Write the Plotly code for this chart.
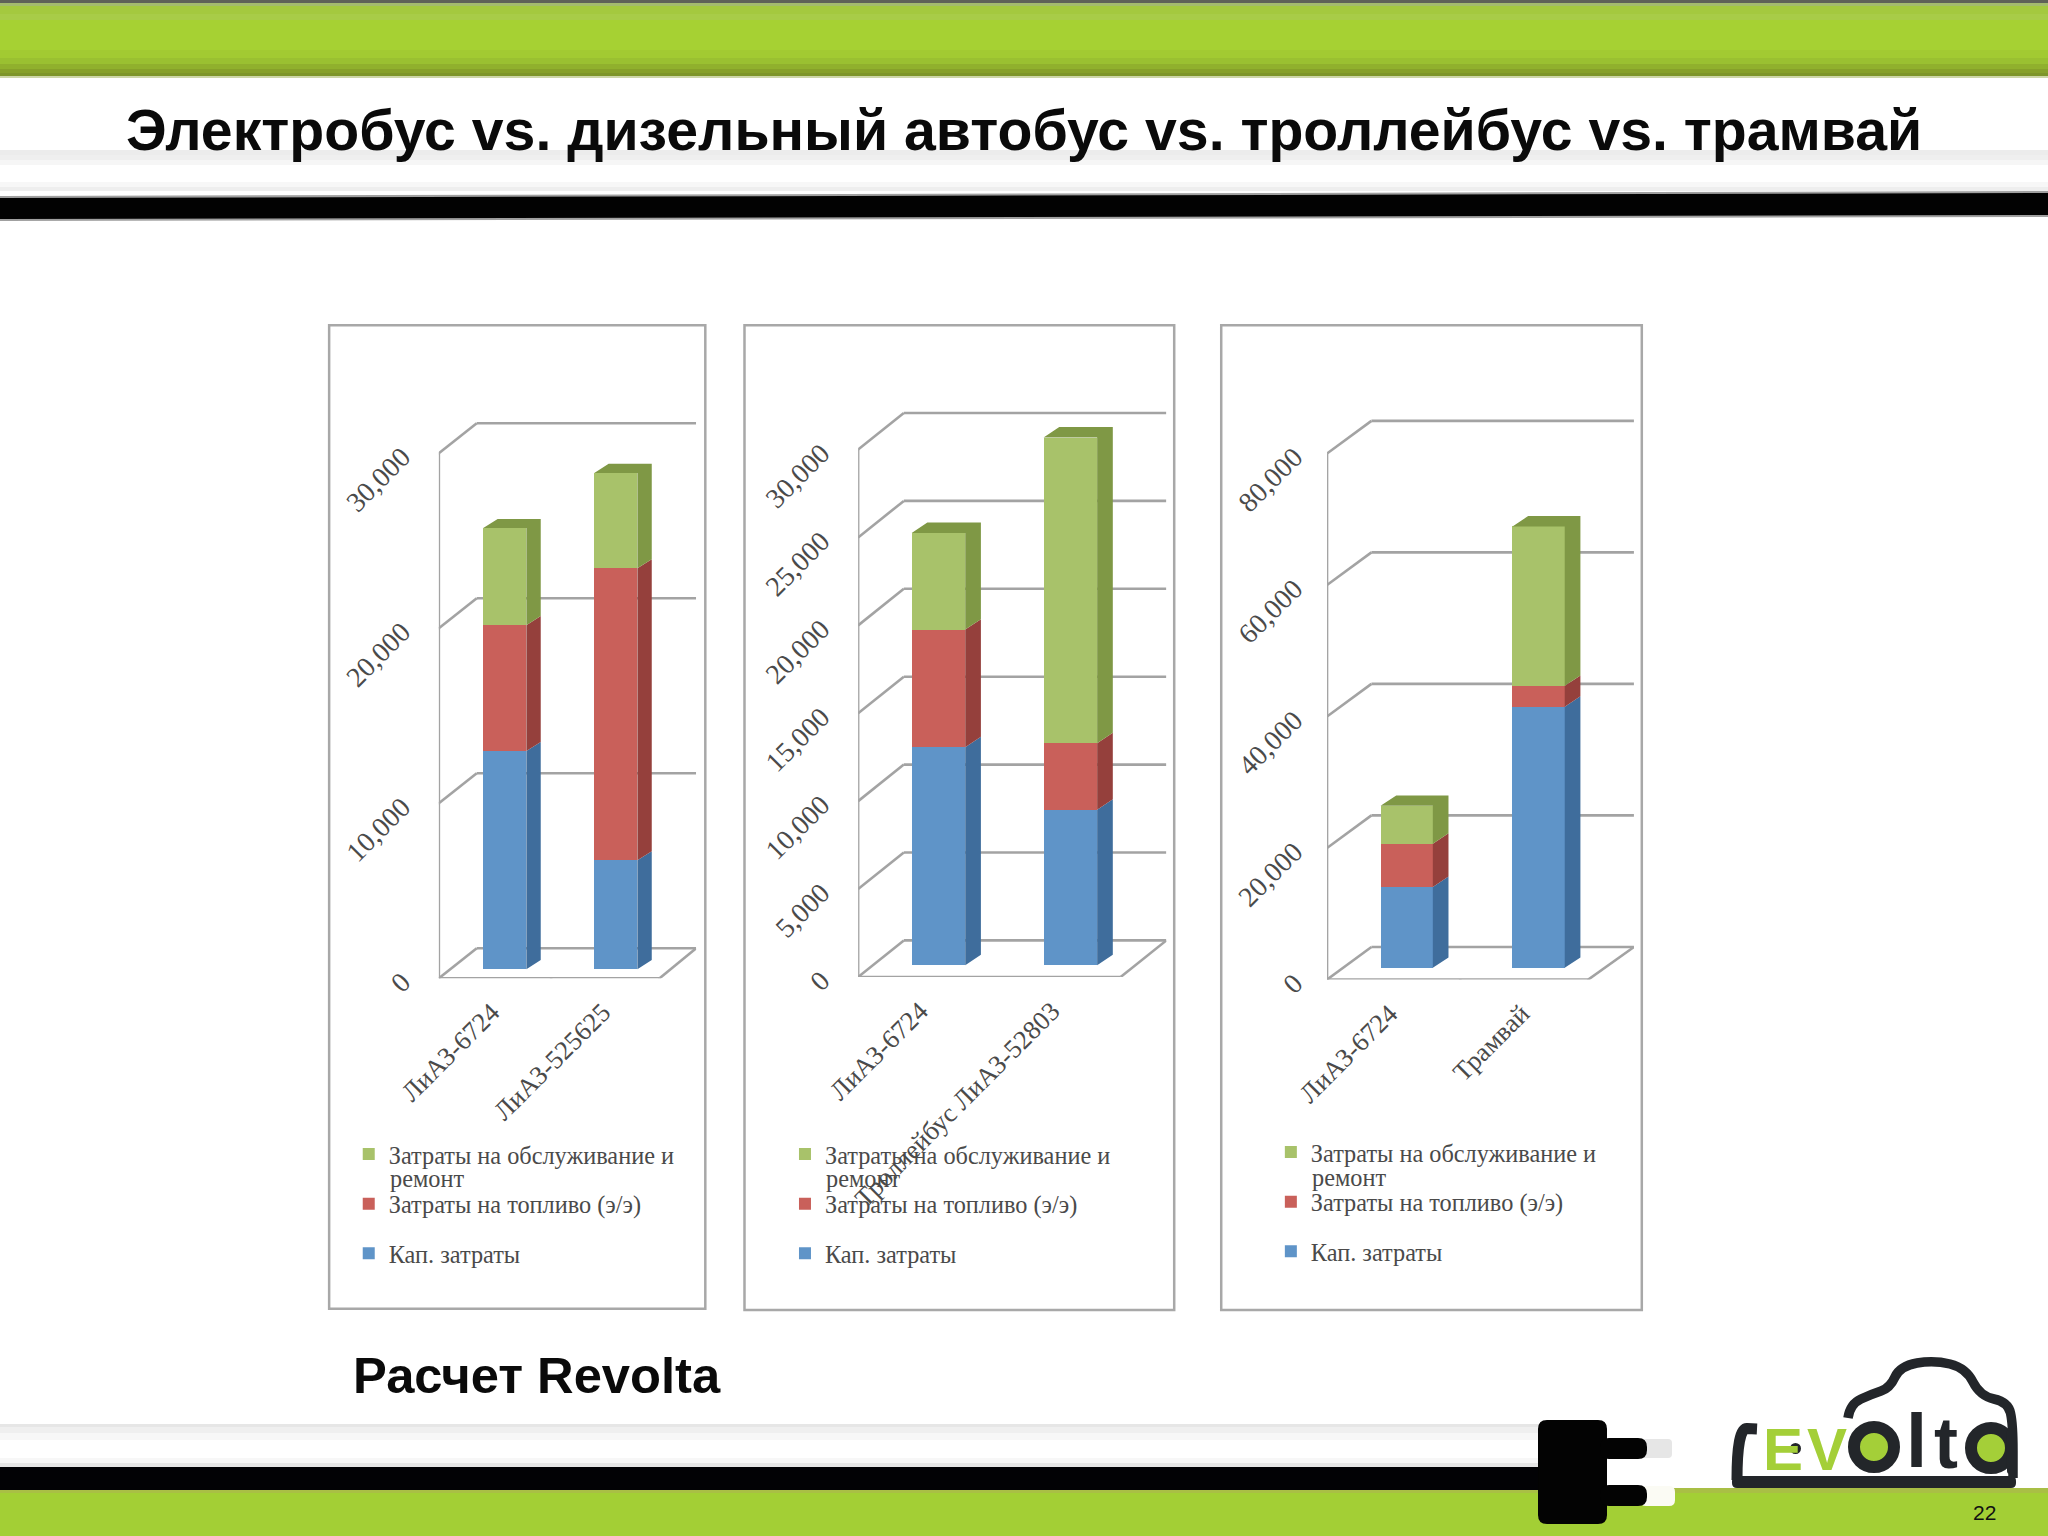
import plotly.graph_objects as go

W, H = 2048, 1536
S = 2048 / 1568

# ---------- data ----------
CATS_1 = ["ЛиАЗ-6724", "ЛиАЗ-525625"]
CAPEX_1 = [12460, 6220]
FUEL_1 = [7190, 16680]
MAINT_1 = [5550, 5450]
TICKS_1 = [0, 10000, 20000, 30000]

CATS_2 = ["ЛиАЗ-6724", "Троллейбус ЛиАЗ-52803"]
CAPEX_2 = [12400, 8840]
FUEL_2 = [6690, 3790]
MAINT_2 = [5500, 17385]
TICKS_2 = [0, 5000, 10000, 15000, 20000, 25000, 30000]

CATS_3 = ["ЛиАЗ-6724", "Трамвай"]
CAPEX_3 = [12300, 39700]
FUEL_3 = [6570, 3180]
MAINT_3 = [5760, 24230]
TICKS_3 = [0, 20000, 40000, 60000, 80000]

SERIES_NAMES = ["Кап. затраты", "Затраты на топливо (э/э)", "Затраты на обслуживание и"]
SERIES_NAME_LINE2 = "ремонт"
TITLE = "Электробус vs. дизельный автобус vs. троллейбус vs. трамвай"
NOTE = "Расчет Revolta"
PAGE = "22"

# ---------- style / layout (1568-wide reference units) ----------
FRONT = ["#5f94c8", "#c9605a", "#a8c26a"]
SIDE = ["#3f6d9c", "#95403c", "#7f9845"]
GRID = "#a3a3a3"
LABEL = "#4a4a4a"
SERIF = "Liberation Serif"
SANS = "Liberation Sans"
PANELS = [
    dict(cats=CATS_1, vals=[CAPEX_1, FUEL_1, MAINT_1], ticks=TICKS_1,
         box=(252, 249, 540, 1002), ax=336, floor=749, base=742, ppu=134.0 / 10000,
         back=(29, 23), right=533, front_end=505, ctick=[336, 422, 505],
         bars=[(370, 403), (455, 488)], depth=(11, 7), legend=(267, 866.5), line2=(298, 902.5), lab_dx=10, ylen=30),
    dict(cats=CATS_2, vals=[CAPEX_2, FUEL_2, MAINT_2], ticks=TICKS_2,
         box=(570, 249, 899, 1003), ax=657, floor=748, base=739, ppu=67.3 / 5000,
         back=(35, 28), right=893, front_end=858, ctick=[657, 757, 858],
         bars=[(698, 739), (799, 840)], depth=(12, 8), legend=(601, 866.5), line2=(632, 902.5), lab_dx=14, ylen=30),
    dict(cats=CATS_3, vals=[CAPEX_3, FUEL_3, MAINT_3], ticks=TICKS_3,
         box=(935, 249, 1257, 1003), ax=1016, floor=750, base=741, ppu=100.7 / 20000,
         back=(34, 25), right=1251, front_end=1216, ctick=[1016, 1118, 1216],
         bars=[(1057, 1097), (1158, 1198)], depth=(12, 8), legend=(973, 865), line2=(1004, 901.5), lab_dx=13, ylen=26),
]
PLOT_TOP = 295


def px(x):
    return x / W


def py(y):
    return 1 - y / H


def rect(x0, y0, x1, y1, color, layer="below"):
    return dict(type="rect", xref="paper", yref="paper", x0=px(x0), x1=px(x1), y0=py(y0), y1=py(y1),
                fillcolor=color, line=dict(width=0), layer=layer)


def poly(points, color):
    d = "M " + " L ".join(f"{px(a):.5f},{py(b):.5f}" for a, b in points) + " Z"
    return dict(type="path", xref="paper", yref="paper", path=d, fillcolor=color, line=dict(width=0), layer="below")


def rounded(x0, y0, x1, y1, r, color, layer="below"):
    k = lambda a, b: f"{px(a):.5f},{py(b):.5f}"
    d = (f"M {k(x0 + r, y0)} L {k(x1 - r, y0)} Q {k(x1, y0)} {k(x1, y0 + r)} L {k(x1, y1 - r)} "
         f"Q {k(x1, y1)} {k(x1 - r, y1)} L {k(x0 + r, y1)} Q {k(x0, y1)} {k(x0, y1 - r)} "
         f"L {k(x0, y0 + r)} Q {k(x0, y0)} {k(x0 + r, y0)} Z")
    return dict(type="path", xref="paper", yref="paper", path=d, fillcolor=color, line=dict(width=0), layer=layer)


def smooth(points, color, width, layer="below"):
    k = lambda a, b: f"{px(a):.5f},{py(b):.5f}"
    d = "M " + k(*points[0])
    for i in range(1, len(points) - 1):
        mx, my = (points[i][0] + points[i + 1][0]) / 2, (points[i][1] + points[i + 1][1]) / 2
        d += f" Q {k(*points[i])} {k(mx, my)}"
    d += " L " + k(*points[-1])
    return dict(type="path", xref="paper", yref="paper", path=d, line=dict(color=color, width=width), layer=layer)


shapes, annotations = [], []

# ---------- slide chrome ----------
for a, b, c in [(0, 3, "#5e6258"), (3, 6, "#a3bb6e"), (6, 14, "#a4c93f"), (14, 20, "#a8cc48"), (20, 50, "#a6d133"),
                (50, 58, "#a2ca32"), (58, 64, "#9ac031"), (64, 69, "#90b02d"), (69, 73, "#86a02a"),
                (73, 76, "#7d952a"), (76, 78, "#cdd6a8"),
                (150, 155, "#ececec"), (155, 160, "#efefef"), (160, 165, "#f6f6f6"),
                (182, 187, "#f7f7f7"), (187, 191, "#eeeeee")]:
    shapes.append(rect(0, a, W, b, c))
shapes.append(poly([(0, 196), (W, 191), (W, 217), (0, 221)], "#a0a0a0"))
shapes.append(poly([(0, 198), (W, 193), (W, 215), (0, 219)], "#020202"))

for a, b, c in [(1424, 1427, "#e6e6e6"), (1427, 1433, "#efefef"), (1433, 1440, "#f7f7f7"),
                (1458, 1463, "#f7f7f7"), (1463, 1467, "#e6e6e6")]:
    shapes.append(rect(0, a, 1545, b, c))
shapes.append(rect(0, 1488, W, H, "#a3cf35"))
shapes.append(rect(0, 1488, W, 1493, "#a9bf45"))
shapes.append(rect(0, 1467, 1545, 1490, "#020205"))

# plug
shapes.append(rounded(1640, 1439, 1672, 1458, 4, "#e6e6e6"))
shapes.append(rounded(1640, 1486, 1675, 1506, 6, "#fbfbf4"))
shapes.append(rounded(1538, 1420, 1607, 1524, 9, "#030303"))
shapes.append(rounded(1600, 1438, 1647, 1459, 9, "#030303"))
shapes.append(rounded(1600, 1485, 1647, 1506, 9, "#030303"))

LOGO = "#23262a"
LIME = "#a4cf38"
shapes.append(rounded(1732, 1476, 2016, 1488, 5, LOGO))
shapes.append(smooth([(1737, 1480), (1737, 1428), (1757, 1429)], LOGO, 11))
shapes.append(smooth([(1848, 1418), (1850, 1404), (1872, 1394), (1890, 1388), (1900, 1366), (1934, 1360),
                      (1966, 1368), (1980, 1396), (2008, 1402), (2013, 1424), (2013, 1478)], LOGO, 9.5))
for cx, cy in [(1874, 1447), (1991, 1448)]:
    shapes.append(dict(type="circle", xref="paper", yref="paper", layer="below",
                       x0=px(cx - 20), x1=px(cx + 20), y0=py(cy - 20), y1=py(cy + 20),
                       fillcolor=LIME, line=dict(color=LOGO, width=12)))
shapes.append(rounded(2007, 1428, 2017, 1474, 3, LOGO))
for txt, x, y, sz, col in [("E", 1783, 1449, 60, LIME), ("V", 1827, 1449, 60, LIME),
                           ("l", 1916, 1440, 76, LOGO), ("t", 1946, 1443, 72, LOGO)]:
    annotations.append(dict(text=f"<b>{txt}</b>", x=px(x), y=py(y), xref="paper", yref="paper", showarrow=False,
                            xanchor="center", yanchor="middle", font=dict(family=SANS, size=sz, color=col)))
shapes.append(dict(type="circle", xref="paper", yref="paper", layer="above", x0=px(1790), x1=px(1801),
                   y0=py(1443), y1=py(1454), fillcolor=LOGO, line=dict(width=0)))

annotations += [
    dict(text=f"<b>{TITLE}</b>", x=px(1024), y=py(130), xref="paper", yref="paper", showarrow=False,
         xanchor="center", yanchor="middle", font=dict(family=SANS, size=57.2, color="#0a0a0a")),
    dict(text=f"<b>{NOTE}</b>", x=px(351), y=py(1375), xref="paper", yref="paper", showarrow=False,
         xanchor="left", yanchor="middle", font=dict(family=SANS, size=50.7, color="#0a0a0a")),
    dict(text=PAGE, x=px(1984), y=py(1512), xref="paper", yref="paper", showarrow=False,
         xanchor="center", yanchor="middle", font=dict(family=SANS, size=21, color="#111111")),
]

fig = go.Figure()
layout_axes = {}

for i, p in enumerate(PANELS):
    n = i + 1
    xa, ya = f"x{n}", f"y{n}"
    xname, yname = f"xaxis{n}", f"yaxis{n}"
    legend_id = "legend" if n == 1 else f"legend{n}"

    # panel frame
    b = p["box"]
    shapes.append(dict(type="rect", xref="paper", yref="paper", layer="below",
                       x0=px(b[0] * S), x1=px(b[2] * S), y0=py(b[1] * S), y1=py(b[3] * S),
                       fillcolor="#ffffff", line=dict(color="#a8a8a8", width=2.5)))

    # axis calibration: reference px <-> data
    c1 = sum(p["bars"][0]) / 2
    c2 = sum(p["bars"][1]) / 2
    ux = c2 - c1
    to_x = lambda q, c1=c1, ux=ux: 1 + (q - c1) / ux
    to_y = lambda q, base=p["base"], ppu=p["ppu"]: (base - q) / ppu
    x_range = [to_x(p["ax"]), to_x(p["right"])]
    y_range = [to_y(p["floor"]), to_y(PLOT_TOP)]
    shift = (p["floor"] - p["base"]) / p["ppu"]
    bdx, bdy = p["back"][0] / ux, p["back"][1] / p["ppu"]
    ddx, ddy = p["depth"][0] / ux, p["depth"][1] / p["ppu"]
    bar_w = (p["bars"][0][1] - p["bars"][0][0]) / ux
    positions = [1, 2]

    grid = dict(color=GRID, width=2.6)


    def seg(x0, y0, x1, y1):
        shapes.append(dict(type="line", xref=xa, yref=ya, x0=x0, y0=y0, x1=x1, y1=y1, line=grid, layer="below"))


    xl, xr = x_range
    for v in p["ticks"]:
        yy = v - shift
        seg(xl, yy, xl + bdx, yy + bdy)
        seg(xl + bdx, yy + bdy, xr, yy + bdy)
        seg(xl - 5 / ux, yy, xl, yy)
    seg(xl, -shift, xl, p["ticks"][-1] - shift)
    fe = to_x(p["front_end"])
    seg(xl, -shift, fe, -shift)
    seg(fe, -shift, xr, bdy - shift)
    for t in p["ctick"]:
        seg(to_x(t), -shift, to_x(t), -shift - 5 / p["ppu"])

    # stacked bars
    for k, vals in enumerate(p["vals"]):
        fig.add_trace(go.Bar(x=positions, y=vals, width=bar_w, name=SERIES_NAMES[k], xaxis=xa, yaxis=ya,
                             marker=dict(color=FRONT[k], line=dict(width=0)), legend=legend_id,
                             legendgroup=f"p{n}s{k}", legendrank=10 - k, hoverinfo="skip"))
    # 3-D side and top faces, derived from the same values
    for k, vals in enumerate(p["vals"]):
        xs, ys = [], []
        for j, pos in enumerate(positions):
            bottom = sum(p["vals"][m][j] for m in range(k))
            top = bottom + vals[j]
            e = pos + bar_w / 2
            xs += [e, e + ddx, e + ddx, e, e, None]
            ys += [bottom, bottom + ddy, top + ddy, top, bottom, None]
            if k == len(p["vals"]) - 1:
                s = pos - bar_w / 2
                xs += [s, s + ddx, e + ddx, e, s, None]
                ys += [top, top + ddy, top + ddy, top, top, None]
        fig.add_trace(go.Scatter(x=xs, y=ys, xaxis=xa, yaxis=ya, mode="lines", fill="toself", fillcolor=SIDE[k],
                                 line=dict(width=0), showlegend=False, hoverinfo="skip"))

    layout_axes[xname] = dict(domain=[px(p["ax"] * S), px(p["right"] * S)], range=x_range, anchor=ya,
                              tickmode="array", tickvals=[q - p["lab_dx"] / ux for q in positions],
                              ticktext=p["cats"], tickangle=-45,
                              ticks="outside", ticklen=7, tickcolor="rgba(0,0,0,0)", showgrid=False,
                              zeroline=False, showline=False,
                              tickfont=dict(family=SERIF, size=26.5, color=LABEL))
    layout_axes[yname] = dict(domain=[py(p["floor"] * S), py(PLOT_TOP * S)], range=y_range, anchor=xa,
                              tickmode="array", tickvals=[v - shift for v in p["ticks"]],
                              ticktext=[f"{v:,}" for v in p["ticks"]], tickangle=-45,
                              ticks="outside", ticklen=p["ylen"], tickcolor="rgba(0,0,0,0)", showgrid=False,
                              zeroline=False, showline=False,
                              tickfont=dict(family=SERIF, size=28, color=LABEL))
    layout_axes[legend_id] = dict(x=px(p["legend"][0] * S), y=py(p["legend"][1] * S), xanchor="left", yanchor="top",
                                  traceorder="grouped", tracegroupgap=15, bgcolor="rgba(0,0,0,0)",
                                  font=dict(family=SERIF, size=24.3, color=LABEL), borderwidth=0)
    annotations.append(dict(text=SERIES_NAME_LINE2, x=px(p["line2"][0] * S), y=py(p["line2"][1] * S),
                            xref="paper", yref="paper", showarrow=False, xanchor="left", yanchor="middle",
                            xshift=-1, font=dict(family=SERIF, size=24.3, color=LABEL)))

fig.update_layout(width=W, height=H, autosize=False, margin=dict(l=0, r=0, t=0, b=0, autoexpand=False),
                  paper_bgcolor="#ffffff", plot_bgcolor="rgba(0,0,0,0)", barmode="stack",
                  shapes=shapes, annotations=annotations, **layout_axes)

fig.write_html("out.html", post_script="document.body.style.margin='0';", config={"displayModeBar": False})
